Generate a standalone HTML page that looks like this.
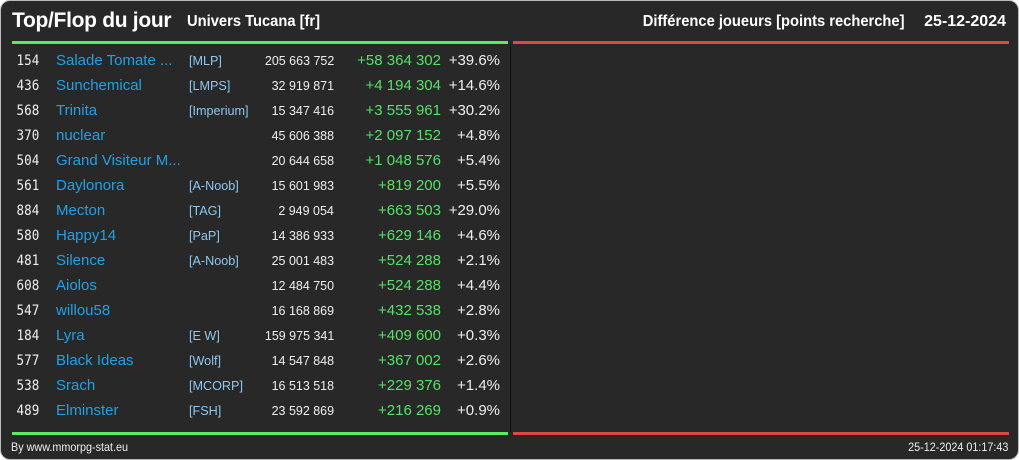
<!DOCTYPE html>
<html><head><meta charset="utf-8"><style>
html,body{margin:0;padding:0;background:#fff;}
#frame{position:absolute;left:0;top:0;width:1017px;height:458px;background:#282828;border:1px solid #bbb;border-radius:10px;overflow:hidden;font-family:"Liberation Sans",sans-serif;color:#eee;}
.a{position:absolute;white-space:nowrap;line-height:16px;}
.r{text-align:right;}
</style></head><body>
<div id="frame">
<div class="a" style="left:11px;top:8px;font-size:21px;line-height:24px;font-weight:bold;color:#fff;letter-spacing:-0.3px">Top/Flop du jour</div>
<div class="a" style="left:186px;top:12px;font-size:16px;line-height:18px;font-weight:bold;color:#fff;transform:scaleX(0.92);transform-origin:left">Univers Tucana [fr]</div>
<div class="a" style="right:113px;top:12px;font-size:16px;line-height:18px;font-weight:bold;color:#fff;transform:scaleX(0.92);transform-origin:right">Différence joueurs [points recherche]</div>
<div class="a" style="right:12px;top:12px;font-size:16px;line-height:18px;font-weight:bold;color:#fff">25-12-2024</div>
<div class="a" style="left:11px;top:40px;width:496px;height:3px;background:#55ee66"></div>
<div class="a" style="left:512px;top:40px;width:496px;height:3px;background:#e04848"></div>
<div class="a" style="left:509px;top:43px;width:1px;height:388px;background:#111"></div>
<div class="a" style="left:11px;top:431px;width:496px;height:3px;background:#55ee66"></div>
<div class="a" style="left:512px;top:431px;width:496px;height:3px;background:#e04848"></div>
<div class="a" style="left:10px;top:438px;font-size:12px;color:#eee;transform:scaleX(0.9);transform-origin:left">By www.mmorpg-stat.eu</div>
<div class="a" style="right:10px;top:438px;font-size:12px;color:#eee;transform:scaleX(0.9);transform-origin:right">25-12-2024 01:17:43</div>
<div id="rows"></div>
</div>
<script>
const ranks=["154","436","568","370","504","561","884","580","481","608","547","184","577","538","489"];
const names=["Salade Tomate ...","Sunchemical","Trinita","nuclear","Grand Visiteur M...","Daylonora","Mecton","Happy14","Silence","Aiolos","willou58","Lyra","Black Ideas","Srach","Elminster"];
const tags=["[MLP]","[LMPS]","[Imperium]","","","[A-Noob]","[TAG]","[PaP]","[A-Noob]","","","[E W]","[Wolf]","[MCORP]","[FSH]"];
const points=["205 663 752","32 919 871","15 347 416","45 606 388","20 644 658","15 601 983","2 949 054","14 386 933","25 001 483","12 484 750","16 168 869","159 975 341","14 547 848","16 513 518","23 592 869"];
const diffs=["+58 364 302","+4 194 304","+3 555 961","+2 097 152","+1 048 576","+819 200","+663 503","+629 146","+524 288","+524 288","+432 538","+409 600","+367 002","+229 376","+216 269"];
const pcts=["+39.6%","+14.6%","+30.2%","+4.8%","+5.4%","+5.5%","+29.0%","+4.6%","+2.1%","+4.4%","+2.8%","+0.3%","+2.6%","+1.4%","+0.9%"];
const host=document.getElementById('rows');
function cell(row,txt,css,name,inter){
  const d=document.createElement('div');
  d.className='a';
  d.style.cssText=css;
  d.textContent=txt;
  
  
  row.appendChild(d);
}
for(let i=0;i<ranks.length;i++){
  const row=document.createElement('div');
  row.className='a';
  row.style.cssText='left:0;top:'+(52+i*25)+'px;width:509px;height:16px;';
  
  
  host.appendChild(row);
  cell(row,ranks[i],'right:471px;font-size:14px;color:#eee;font-family:"DejaVu Sans Mono",monospace;transform:scaleX(0.9);transform-origin:right','rank','false');
  cell(row,names[i],'left:55px;font-size:15px;color:#22a0e6','player-name','true');
  cell(row,tags[i],'left:188px;font-size:13px;color:#8cc8f0;transform:scaleX(0.97);transform-origin:left','alliance-tag','true');
  cell(row,points[i],'right:176px;font-size:13px;color:#eee;transform:scaleX(0.96);transform-origin:right','total-points','false');
  cell(row,diffs[i],'right:69px;font-size:15px;color:#55e266','point-difference','false');
  cell(row,pcts[i],'right:10px;font-size:15px;color:#eee','percent-change','false');
}
</script>
</body></html>
